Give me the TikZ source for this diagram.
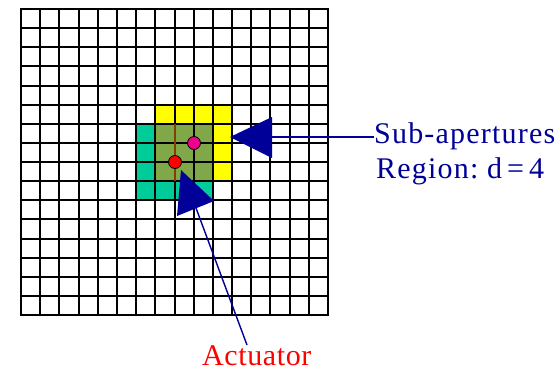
\documentclass[tikz,border=0pt]{standalone}
\usepackage{fontspec}
\setmainfont{Liberation Serif}
\newfontfamily\lblfont[LetterSpace=4]{Liberation Serif}
\newfontfamily\actfont[LetterSpace=2]{Liberation Serif}
\definecolor{navyb}{RGB}{0,0,153}
\definecolor{yelc}{RGB}{255,255,0}
\definecolor{tealc}{RGB}{0,204,153}
\definecolor{olivec}{RGB}{128,168,72}
\definecolor{brownc}{RGB}{128,64,0}
\begin{document}
\begin{tikzpicture}[x=1bp,y=-1bp,
  gridline/.style={draw=black,line width=2bp,line cap=rect},
  dotnode/.style={circle,draw=black,line width=0.8bp,minimum size=13bp,inner sep=0pt},
  labeltext/.style={inner sep=0pt,font=\lblfont\fontsize{30bp}{36bp}\selectfont},
  acttext/.style={inner sep=0pt,font=\actfont\fontsize{30bp}{36bp}\selectfont},
  pointer/.style={fill=navyb},
  pointerline/.style={draw=navyb,line width=1.4bp}]
\useasboundingbox[fill=white] (0,0) rectangle (559,370);
% grid intersection coordinates, snapped to whole pixels
\foreach \i in {0,...,16} {
  \foreach \j in {0,...,16} {
    \pgfmathsetmacro\gx{round(21+19.1875*\i)}
    \pgfmathsetmacro\gy{round(9+19.125*\j)}
    \coordinate (g\i-\j) at (\gx,\gy);
  }
}
\fill[yelc] (g7-5) rectangle (g11-9);
\fill[tealc] (g6-6) rectangle (g10-10);
\fill[olivec] (g7-6) rectangle (g10-9);
\foreach \i in {0,...,16} {
  \draw[gridline] (g\i-0) -- (g\i-16);
  \draw[gridline] (g0-\i) -- (g16-\i);
}
\draw[brownc,line width=2bp] (g8-6) -- (g8-9);
\node[dotnode,fill=magenta] (pm) at (g9-7) {};
\node[dotnode,fill=red] (pr) at (g8-8) {};
% labels
\node[labeltext,text=navyb,anchor=base west] (sub1) at (374,143) {Sub-apertures};
\node[labeltext,text=navyb,anchor=base west] (sub2) at (376,178) {Region:\ d\,=\,4};
\node[acttext,text=red,anchor=base west] (act) at (202,365) {Actuator};
% arrow 1
\coordinate (t1) at (230,137);
\coordinate (b1) at (272,137);
\fill[pointer] (t1) -- (272,117) -- (272,158) -- cycle;
\draw[pointerline] (b1) -- (b1 -| sub1.west);
% arrow 2
\coordinate (t2) at (181,170);
\coordinate (b2) at (196,208);
\coordinate (e2) at (247,345);
\fill[pointer] (t2) -- (177,216) -- (214,201) -- cycle;
\draw[pointerline] (b2) -- (e2);
\end{tikzpicture}
\end{document}
